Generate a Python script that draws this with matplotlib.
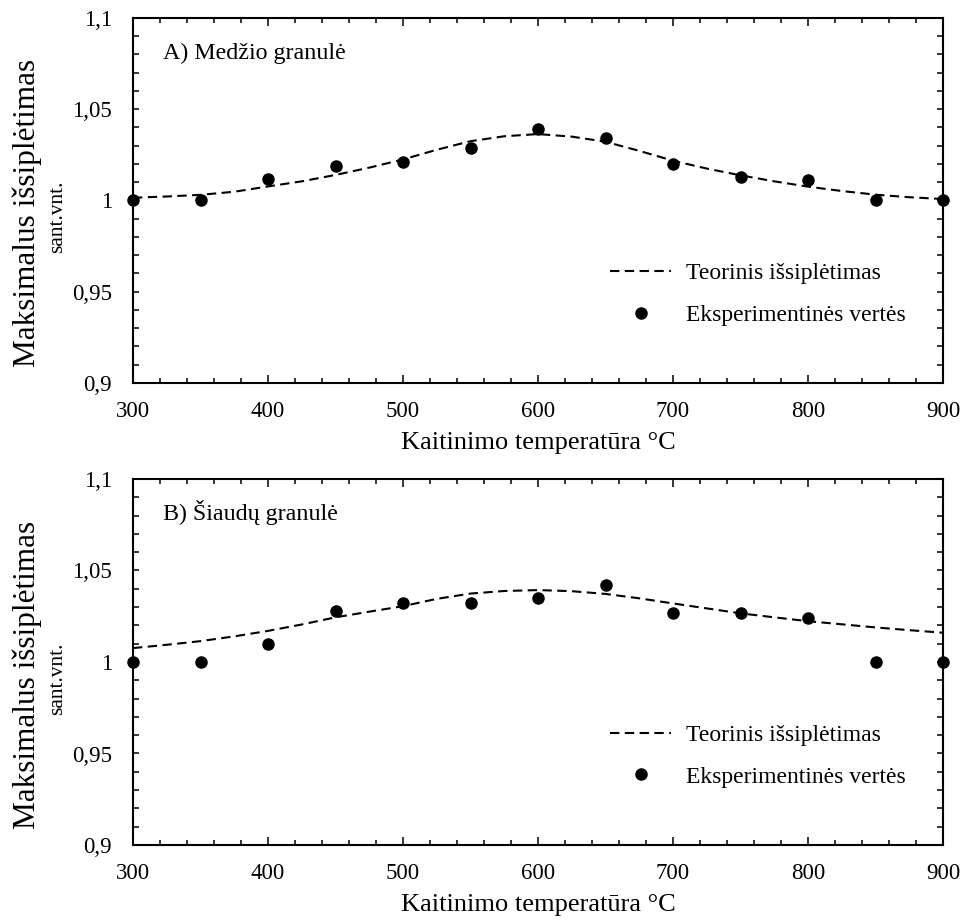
import matplotlib
matplotlib.use("Agg")
import matplotlib.pyplot as plt
from matplotlib.ticker import MultipleLocator

plt.rcParams['font.family'] = ['Liberation Serif', 'DejaVu Serif']

# Heating temperature (°C) for the measured points
temperature = [300, 350, 400, 450, 500, 550, 600, 650, 700, 750, 800, 850, 900]

# Measured maximum expansion, wood pellet
wood_measured = [1.000, 1.000, 1.012, 1.019, 1.021, 1.029, 1.039, 1.034,
                 1.020, 1.013, 1.011, 1.000, 1.000]
# Measured maximum expansion, straw pellet
straw_measured = [1.000, 1.000, 1.010, 1.028, 1.032, 1.032, 1.035, 1.042,
                  1.027, 1.027, 1.024, 1.000, 1.000]

# Theoretical expansion curves
curve_temperature = [300, 325, 350, 375, 400, 425, 450, 475, 500, 525, 550,
                     575, 600, 625, 650, 675, 700, 725, 750, 775, 800, 825,
                     850, 875, 900]
wood_theory = [1.0015, 1.0022, 1.0031, 1.0048, 1.0077, 1.0105, 1.0140, 1.0180,
               1.0225, 1.0278, 1.0325, 1.0352, 1.0364, 1.0350, 1.0322, 1.0272,
               1.0218, 1.0175, 1.0138, 1.0105, 1.0076, 1.0052, 1.0032, 1.0018,
               1.0008]
straw_theory = [1.0076, 1.0094, 1.0114, 1.0140, 1.0170, 1.0205, 1.0244, 1.0275,
                1.0305, 1.0345, 1.0374, 1.0388, 1.0393, 1.0387, 1.0372, 1.0348,
                1.0320, 1.0293, 1.0266, 1.0244, 1.0223, 1.0206, 1.0189, 1.0174,
                1.0160]

y_ticks = [0.9, 0.95, 1.0, 1.05, 1.1]
y_tick_labels = ['0,9', '0,95', '1', '1,05', '1,1']
x_ticks = [300, 400, 500, 600, 700, 800, 900]

panel_titles = ['A) Medžio granulė', 'B) Šiaudų granulė']
legend_labels = ['Teorinis išsiplėtimas', 'Eksperimentinės vertės']
x_label = 'Kaitinimo temperatūra °C'
y_label_main = 'Maksimalus išsiplėtimas'
y_label_unit = 'sant.vnt.'

W, H = 967, 923
fig = plt.figure(figsize=(W / 100, H / 100), dpi=100)

panels = [
    (fig.add_axes([133 / W, 1 - 383 / H, 810 / W, 365 / H]),
     wood_theory, wood_measured, panel_titles[0]),
    (fig.add_axes([133 / W, 1 - 845 / H, 810 / W, 366 / H]),
     straw_theory, straw_measured, panel_titles[1]),
]

for ax, theory, measured, title in panels:
    ax.plot(curve_temperature, theory, color='black', lw=1.5,
            dashes=(4.5, 2.6), label=legend_labels[0])
    ax.plot(temperature, measured, 'o', color='black', ms=8,
            clip_on=False, zorder=5, label=legend_labels[1])

    ax.set_xlim(300, 900)
    ax.set_ylim(0.9, 1.1)
    ax.set_xticks(x_ticks)
    ax.set_yticks(y_ticks)
    ax.set_yticklabels(y_tick_labels)
    ax.xaxis.set_minor_locator(MultipleLocator(20))
    ax.yaxis.set_minor_locator(MultipleLocator(0.01))

    ax.tick_params(axis='both', which='both', direction='in',
                   top=True, right=True, width=1.1, labelsize=16.5)
    ax.tick_params(axis='x', which='major', length=5.5, pad=13)
    ax.tick_params(axis='x', which='minor', length=3.5)
    ax.tick_params(axis='y', which='major', length=4.5, pad=15)
    ax.tick_params(axis='y', which='minor', length=4.5)
    for sp in ax.spines.values():
        sp.set_linewidth(1.5)

    ax.set_xlabel(x_label, fontsize=19, labelpad=7)

    # two-line axis title: main wording plus the unit line
    ax.text(-0.131, 0.466, y_label_main, transform=ax.transAxes, rotation=90,
            fontsize=22.5, ha='center', va='center')
    ax.text(-0.093, 0.455, y_label_unit, transform=ax.transAxes, rotation=90,
            fontsize=15.5, ha='center', va='center')

    ax.text(0.037, 0.889, title, transform=ax.transAxes, fontsize=17.3,
            ha='left', va='baseline')

    ax.legend(loc='center left', bbox_to_anchor=(0.589, 0.243), frameon=False,
              fontsize=17, handlelength=2.6, handletextpad=0.6,
              labelspacing=0.85, borderaxespad=0, borderpad=0)

fig.savefig('out.png', dpi=100)
